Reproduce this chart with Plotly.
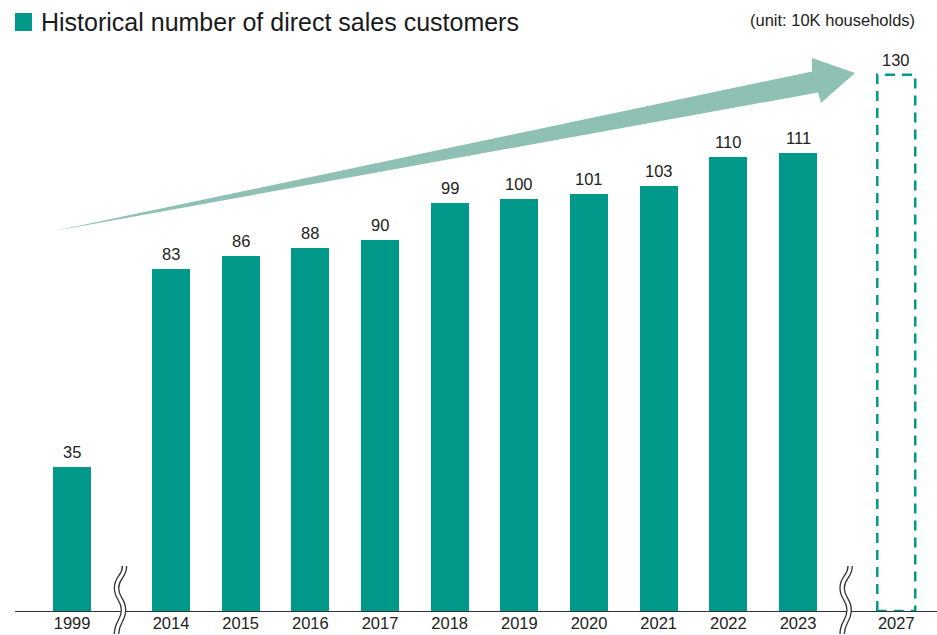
import plotly.graph_objects as go

# ---------------- data ----------------
years = ["1999", "2014", "2015", "2016", "2017", "2018", "2019", "2020", "2021", "2022", "2023"]
values = [35, 83, 86, 88, 90, 99, 100, 101, 103, 110, 111]
target_year = "2027"
target_value = 130
title_text = "Historical number of direct sales customers"
unit_text = "(unit: 10K households)"

# ---------------- layout constants ----------------
W, H = 937, 635
ML, MR, MT, MB = 15, 0, 0, 24
PLOT_W = W - ML - MR
PLOT_H = H - MT - MB
TEAL = "#00998A"
ARROW = "#8FC0B4"
DARK = "#222222"
FONT = "Liberation Sans, Arial, Helvetica, sans-serif"

GAP_BEFORE = 1.42   # axis-break gap after first bar (in bar slots)
GAP_AFTER = 1.41    # axis-break gap before forecast bar
BAR_W = 0.545
PX_PER_X = 69.67
X0_PX = 171         # pixel of slot 0 (2014)
PX_PER_Y = 4.125

# x positions (slots) derived from index
xpos = [-GAP_BEFORE] + [i for i in range(len(years) - 1)]
x_target = xpos[-1] + GAP_AFTER

x_range = [(ML - X0_PX) / PX_PER_X, (W - MR - X0_PX) / PX_PER_X]
y_range = [0, PLOT_H / PX_PER_Y]


def py_to_paper(py):
    return (MT + PLOT_H - py) / PLOT_H


def px_to_paper(px):
    return (px - ML) / PLOT_W


fig = go.Figure()

fig.add_trace(go.Bar(
    x=xpos, y=values, width=BAR_W,
    marker=dict(color=TEAL, line=dict(width=0)),
    hoverinfo="skip", showlegend=False,
))

# forecast dashed outline
hw = BAR_W / 2
fig.add_trace(go.Scatter(
    x=[x_target - hw, x_target - hw, x_target + hw, x_target + hw, x_target - hw],
    y=[0, target_value, target_value, 0, 0],
    mode="lines",
    line=dict(color=TEAL, width=2.5, dash="10px,7px"),
    hoverinfo="skip", showlegend=False,
))

annotations = []
for x, v in zip(xpos + [x_target], values + [target_value]):
    annotations.append(dict(
        x=x, y=v, xref="x", yref="y", text=str(v), showarrow=False,
        yanchor="bottom", yshift=4,
        font=dict(family=FONT, size=16.5, color=DARK),
    ))

# title
annotations.append(dict(
    x=px_to_paper(39), y=py_to_paper(22), xref="paper", yref="paper",
    text=title_text, showarrow=False, xanchor="left", yanchor="middle",
    font=dict(family=FONT, size=25, color="#1a1a1a"),
))
annotations.append(dict(
    x=px_to_paper(917), y=py_to_paper(20), xref="paper", yref="paper",
    text=unit_text, showarrow=False, xanchor="right", yanchor="middle",
    font=dict(family=FONT, size=16.5, color=DARK),
))

shapes = []
# title square
shapes.append(dict(
    type="rect", xref="paper", yref="paper",
    x0=px_to_paper(15), x1=px_to_paper(32), y0=py_to_paper(31), y1=py_to_paper(13),
    fillcolor=TEAL, line=dict(width=0),
))

# big arrow
arrow_pts = [(54, 231), (812, 71.5), (812, 58), (855, 73), (821, 103), (818, 92.5)]
path = "M " + " L ".join(f"{px_to_paper(x):.5f},{py_to_paper(y):.5f}" for x, y in arrow_pts) + " Z"
shapes.append(dict(type="path", xref="paper", yref="paper", path=path,
                   fillcolor=ARROW, line=dict(width=0), layer="below"))


# axis break marks
def wave_path(xc):
    # xc in data units; offsets in pixels
    def X(dx):
        return f"{xc + dx / PX_PER_X:.5f}"

    def Y(py):
        return f"{py_to_paper(py):.5f}"
    return (f"M {X(3)},{Y(566)} "
            f"C {X(3)},{Y(577)} {X(-5)},{Y(577)} {X(-5)},{Y(588)} "
            f"C {X(-5)},{Y(599)} {X(2)},{Y(599)} {X(2)},{Y(610)} "
            f"C {X(2)},{Y(621)} {X(-5)},{Y(622)} {X(-5)},{Y(634)}")


for xc in [(xpos[0] + xpos[1]) / 2, (xpos[-1] + x_target) / 2]:
    p = wave_path(xc)
    shapes.append(dict(type="path", xref="x", yref="paper", path=p,
                       line=dict(color="#333333", width=5.6), layer="above"))
    shapes.append(dict(type="path", xref="x", yref="paper", path=p,
                       line=dict(color="white", width=3.0), layer="above"))

fig.update_layout(
    width=W, height=H,
    margin=dict(l=ML, r=MR, t=MT, b=MB, pad=0, autoexpand=False),
    paper_bgcolor="white", plot_bgcolor="white",
    annotations=annotations, shapes=shapes,
    bargap=0,
    xaxis=dict(
        range=x_range, tickmode="array",
        tickvals=xpos + [x_target], ticktext=years + [target_year],
        showgrid=False, zeroline=False, showline=True, automargin=False,
        linecolor="#333333", linewidth=1.3, ticks="", ticklabelstandoff=-3,
        tickfont=dict(family=FONT, size=16.5, color=DARK),
        fixedrange=True,
    ),
    yaxis=dict(range=y_range, visible=False, fixedrange=True, automargin=False),
    font=dict(family=FONT),
)

fig.write_html("out.html")
